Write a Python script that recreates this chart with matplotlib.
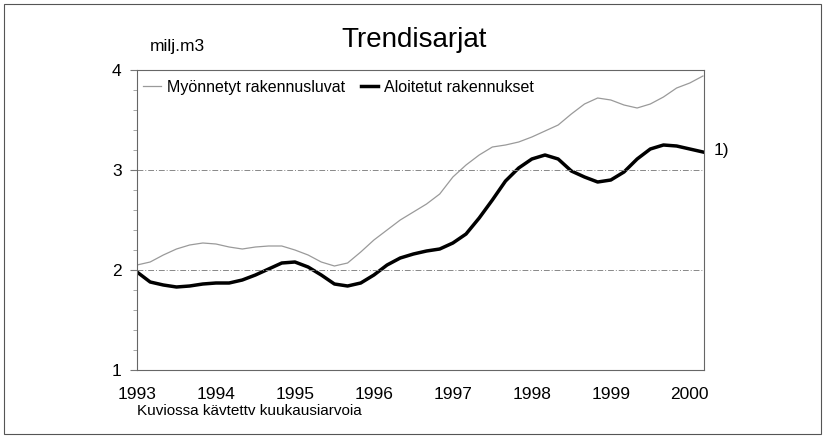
import matplotlib
matplotlib.use('Agg')
import matplotlib.pyplot as plt
from matplotlib.patches import Rectangle
from matplotlib.ticker import MultipleLocator

plt.rcParams['font.family'] = ['Liberation Sans', 'DejaVu Sans']

# kahden kuukauden välein luetut arvot kuvasta, 1993/1 - 2000/2
years = [1993 + k / 6 for k in range(44)]
luvat = [2.05, 2.08, 2.15, 2.21, 2.25, 2.27, 2.26, 2.23, 2.21, 2.23, 2.24, 2.24,
         2.20, 2.15, 2.08, 2.04, 2.07, 2.18, 2.30, 2.40, 2.50, 2.58, 2.66, 2.76,
         2.93, 3.05, 3.15, 3.23, 3.25, 3.28, 3.33, 3.39, 3.45, 3.56, 3.66, 3.72,
         3.70, 3.65, 3.62, 3.66, 3.73, 3.82, 3.87, 3.94]
aloitetut = [1.98, 1.88, 1.85, 1.83, 1.84, 1.86, 1.87, 1.87, 1.90, 1.95, 2.01, 2.07,
             2.08, 2.03, 1.95, 1.86, 1.84, 1.87, 1.95, 2.05, 2.12, 2.16, 2.19, 2.21,
             2.27, 2.36, 2.52, 2.70, 2.89, 3.02, 3.11, 3.15, 3.11, 2.99, 2.93, 2.88,
             2.90, 2.98, 3.11, 3.21, 3.25, 3.24, 3.21, 3.18]
year_ticks = [1993, 1994, 1995, 1996, 1997, 1998, 1999, 2000]

fig = plt.figure(figsize=(8.26, 4.38), dpi=100)
ax = fig.add_axes([137 / 826, 1 - 370 / 438, 567 / 826, 300 / 438])

ax.plot(years, luvat, color='#9a9a9a', lw=0.9, label='Myönnetyt rakennusluvat')
ax.plot(years, aloitetut, color='black', lw=2.5, label='Aloitetut rakennukset')

ax.set_xlim(1993, 2000.18)
ax.set_ylim(1, 4)
ax.set_xticks(year_ticks)
ax.set_xticklabels([str(y) for y in year_ticks])
ax.set_yticks([1, 2, 3, 4])
ax.yaxis.set_minor_locator(MultipleLocator(0.2))
ax.tick_params(axis='x', length=0, pad=12, labelsize=12.5)
ax.tick_params(axis='y', which='major', length=5, color='#777777', labelsize=12.5, pad=6)
ax.tick_params(axis='y', which='minor', length=3, color='#999999')

for y in (2, 3):
    ax.axhline(y, color='#888888', lw=0.7, ls=(0, (6, 2, 1, 2)))

for side in ('left', 'right', 'top', 'bottom'):
    ax.spines[side].set_color('#666666')
    ax.spines[side].set_linewidth(0.8)

ax.legend(loc='upper left', bbox_to_anchor=(-0.014, 1.015), ncol=2, frameon=False,
          fontsize=11.5, handlelength=1.1, handletextpad=0.35, columnspacing=1.0)

ax.text(2000.3, 3.2, '1)', fontsize=12.5, va='center', ha='left', clip_on=False)

fig.text(414 / 826, 1 - 40 / 438, 'Trendisarjat', fontsize=20, ha='center', va='center')
fig.text(150 / 826, 1 - 46 / 438, 'milj.m3', fontsize=12.5, ha='left', va='center')
fig.text(137 / 826, 1 - 411 / 438, 'Kuviossa kävtettv kuukausiarvoia', fontsize=11,
         ha='left', va='center')

fig.patches.append(Rectangle((4 / 826, 4 / 438), 817 / 826, 430 / 438,
                             transform=fig.transFigure, fill=False,
                             edgecolor='#555555', lw=0.8))

fig.savefig('out.png', dpi=100)
